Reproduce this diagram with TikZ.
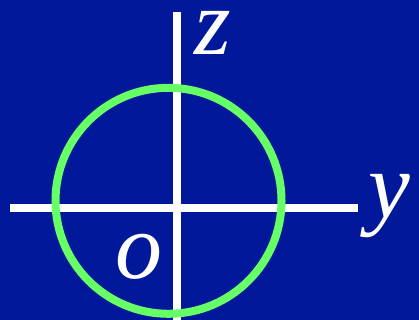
\documentclass[tikz,border=0pt]{standalone}
\usepackage{fontspec}
\setmainfont{Liberation Serif}
\definecolor{bgblue}{RGB}{0,24,153}
\definecolor{circgreen}{RGB}{102,255,102}
\begin{document}
\begin{tikzpicture}[x=1pt,y=-1pt,
  axis/.style={draw=white,line width=8pt},
  lbl/.style={text=white,inner sep=0pt,anchor=base west,font=\fontsize{94}{94}\selectfont\itshape}]
\fill[bgblue] (0,0) rectangle (419,320);
\useasboundingbox (0,0) rectangle (419,320);
\coordinate (zt) at (176.7,12);
\coordinate (zb) at (176.7,320);
\coordinate (yl) at (10,208);
\coordinate (yr) at (358,208);
\coordinate (c) at (168.5,200.8);
\draw[axis] (zt) -- (zb);
\draw[axis] (yl) -- (yr);
\draw[draw=circgreen,line width=8pt] (c) circle[radius=113];
\node[lbl] (zlab) at (194,55) {z};
\node[lbl] (ylab) at (368,217) {y};
\node[lbl] (olab) at (115,278) {o};
\end{tikzpicture}
\end{document}
